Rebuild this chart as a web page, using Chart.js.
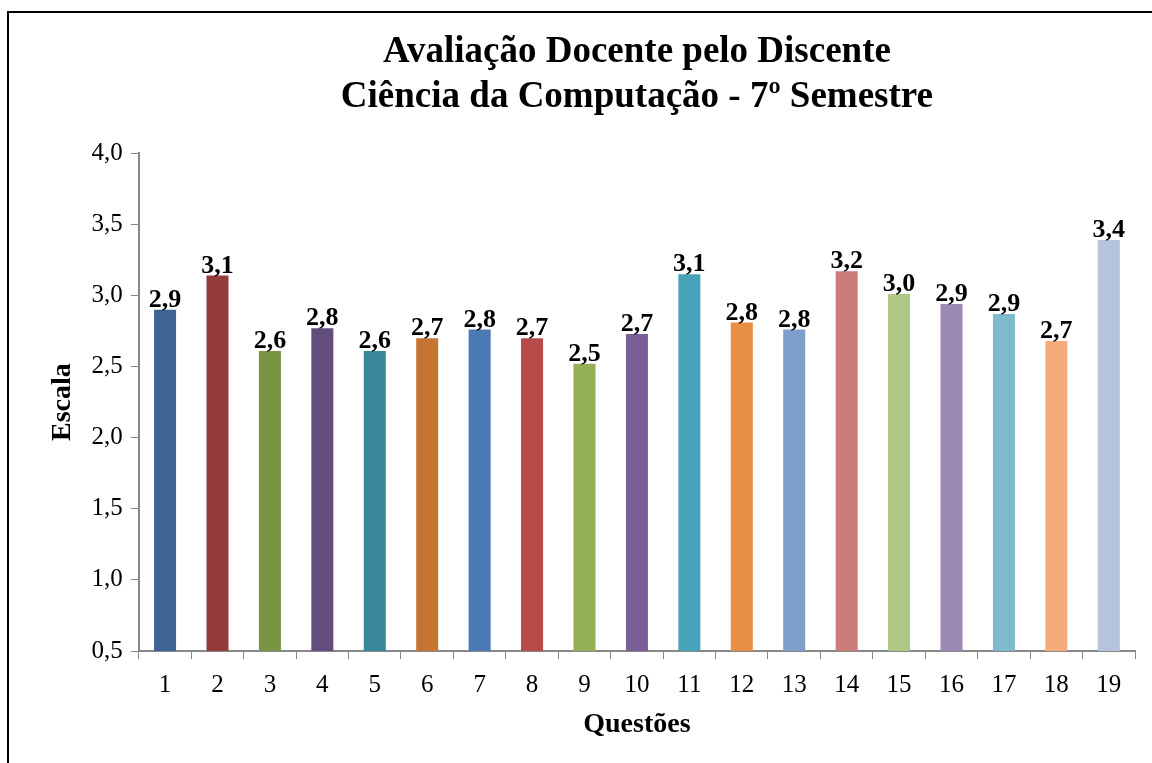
<!DOCTYPE html>
<html>
<head>
<meta charset="utf-8">
<script src="https://cdn.jsdelivr.net/npm/chart.js@4.4.1/dist/chart.umd.min.js"></script>
<style>
    body { margin: 0; background: #fff; overflow: hidden; }
    #wrap { position: relative; width: 1152px; height: 763px; overflow: hidden; }
    #frame { position: absolute; left: 7px; top: 11px; width: 1200px; height: 800px; border: 2px solid #000; box-sizing: border-box; }
    canvas { position: absolute; left: 0; top: 0; }
</style>
</head>
<body>
<div id="wrap">
    <div id="frame"></div>
    <canvas id="chart" width="1152" height="763"></canvas>
</div>
<script>
// Chart data
const questions = ["1", "2", "3", "4", "5", "6", "7", "8", "9", "10", "11", "12", "13", "14", "15", "16", "17", "18", "19"];
const scores = [2.90, 3.14, 2.61, 2.77, 2.61, 2.70, 2.76, 2.70, 2.52, 2.73, 3.15, 2.81, 2.76, 3.17, 3.01, 2.94, 2.87, 2.68, 3.39];
const barColors = ["#3D6495", "#953B3A", "#7A9443", "#634D7E", "#39879A", "#C57533", "#4A79B3", "#B64B4A",
    "#93B056", "#7A5E98", "#48A3BA", "#E98F43", "#7F9FCA", "#CC7B7B", "#AEC784", "#9D8AB3", "#7DBACE", "#F8AB7A", "#B5C3DE"];
const yTicks = [0.5, 1.0, 1.5, 2.0, 2.5, 3.0, 3.5, 4.0];

const serif = "'Liberation Serif', 'Times New Roman', serif";

// Function to format numbers with a comma
function fmt(v) {
    return v.toFixed(1).replace(".", ",");
}

// Draws the value above each bar
const valueLabels = {
    id: "valueLabels",
    afterDatasetsDraw(chart) {
        const ctx = chart.ctx;
        const meta = chart.getDatasetMeta(0);
        ctx.save();
        ctx.font = "bold 26px " + serif;
        ctx.fillStyle = "#000";
        ctx.textAlign = "center";
        ctx.textBaseline = "alphabetic";
        meta.data.forEach(function (bar, i) {
            ctx.fillText(fmt(scores[i]), bar.x, bar.y - 3);
        });
        ctx.restore();
    }
};

new Chart(document.getElementById("chart"), {
    type: "bar",
    data: {
        labels: questions,
        datasets: [{
            data: scores,
            backgroundColor: barColors,
            barPercentage: 0.42,
            categoryPercentage: 1
        }]
    },
    options: {
        responsive: false,
        animation: false,
        layout: { padding: { left: 42, right: 17, top: 30, bottom: 24 } },
        plugins: {
            legend: { display: false },
            tooltip: { enabled: false },
            title: {
                display: true,
                fullSize: false,
                text: ["Avaliação Docente pelo Discente", "Ciência da Computação - 7º Semestre"],
                color: "#000",
                font: { family: serif, size: 37, weight: "bold", lineHeight: 1.22 },
                padding: { top: 0, bottom: 33 }
            }
        },
        scales: {
            x: {
                grid: { display: true, drawOnChartArea: false, offset: true, color: "#888", tickLength: 8 },
                border: { color: "#888", width: 2 },
                ticks: { color: "#000", font: { family: serif, size: 25 }, padding: 11 },
                title: {
                    display: true,
                    text: "Questões",
                    color: "#000",
                    font: { family: serif, size: 28, weight: "bold", lineHeight: 1.0 },
                    padding: { top: 0, bottom: 0 }
                }
            },
            y: {
                min: 0.5,
                max: 4.0,
                afterBuildTicks: function (axis) {
                    axis.ticks = yTicks.map(function (v) { return { value: v }; });
                },
                grid: { display: true, drawOnChartArea: false, color: "#888", tickLength: 8 },
                border: { color: "#888", width: 2 },
                ticks: {
                    color: "#000",
                    font: { family: serif, size: 25 },
                    padding: 8,
                    callback: function (v) { return fmt(v); }
                },
                title: {
                    display: true,
                    text: "Escala",
                    color: "#000",
                    font: { family: serif, size: 28, weight: "bold" },
                    padding: { bottom: 4 }
                }
            }
        }
    },
    plugins: [valueLabels]
});
</script>
</body>
</html>
